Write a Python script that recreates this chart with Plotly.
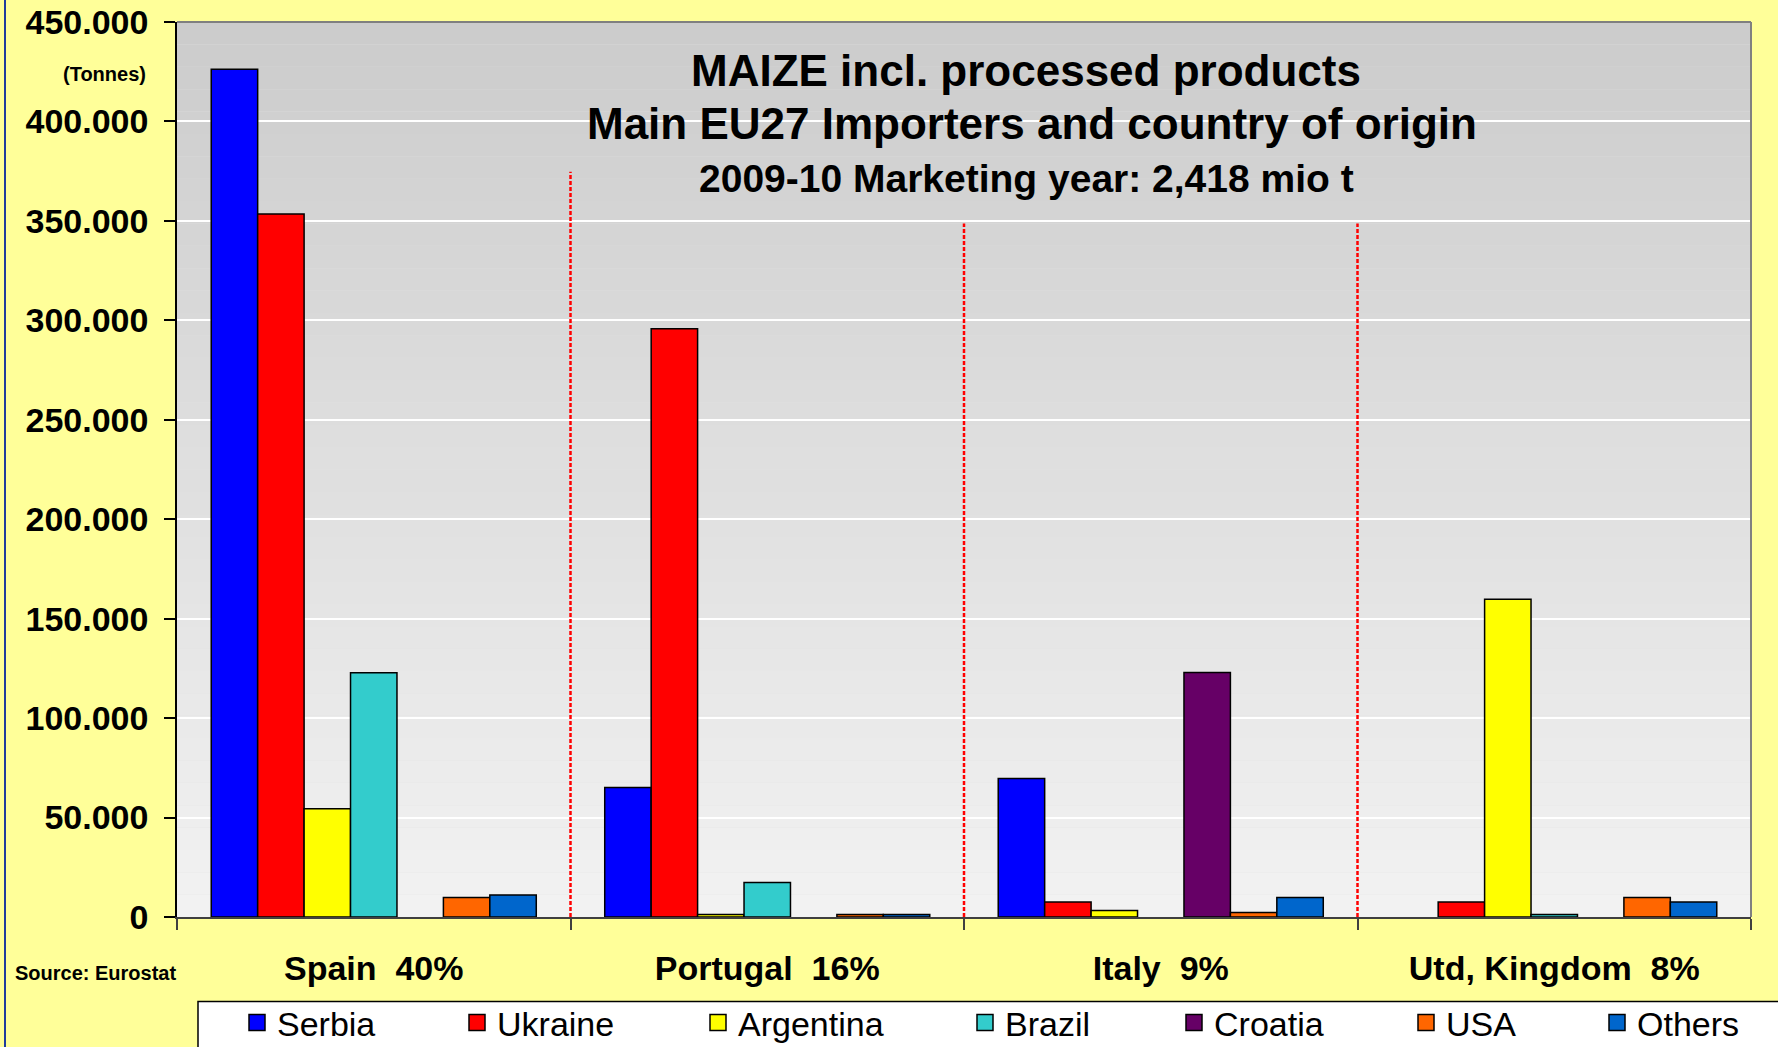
import plotly.graph_objects as go

# importers (x categories) and share of EU27 imports
importers = ["Spain\u00a0 40%", "Portugal\u00a0 16%", "Italy\u00a0 9%", "Utd, Kingdom\u00a0 8%"]

# tonnes imported from each origin, per importer (None = no bar)
serbia = [426300, 65100, 69600, None]
ukraine = [353500, 295800, 7600, 7500]
argentina = [54400, 1200, 3300, 159800]
brazil = [122800, 17400, None, 1200]
croatia = [None, None, 122900, None]
usa = [9800, 1200, 2200, 9800]
others = [11000, 1200, 9800, 7500]

origins = ["Serbia", "Ukraine", "Argentina", "Brazil", "Croatia", "USA", "Others"]
values = [serbia, ukraine, argentina, brazil, croatia, usa, others]
colors = ["#0000FF", "#FF0000", "#FFFF00", "#33CCCC", "#660066", "#FF6600", "#0066CC"]
legend_widths = [175, 196, 222, 164, 187, 146, 100]

# red dotted separators between importers: (position, top in tonnes)
separators = [(0.5, 374700), (1.5, 348700), (2.5, 348700)]

W, H = 1778, 1047
L, R, T, B = 177, 27, 22, 130
PW, PH = W - L - R, H - T - B

FONT = "Liberation Sans, Arial, sans-serif"


def px_x(x):
    return (x - L) / PW


def px_y(y):
    return (H - B - y) / PH


fig = go.Figure()
for name, vals, col in zip(origins, values, colors):
    fig.add_trace(go.Bar(
        x=importers, y=vals, name=name, legendgroup=name, showlegend=False,
        marker=dict(color=col, line=dict(color="black", width=1.5)),
    ))
# legend entries with larger square swatches
for name, col, lw in zip(origins, colors, legend_widths):
    fig.add_trace(go.Scatter(
        x=[None], y=[None], mode="markers", name=name, legendgroup=name, legendwidth=lw,
        marker=dict(symbol="square", size=16, color=col, line=dict(color="black", width=1.5)),
    ))

shapes = []
# plot-area gradient, grey at top to light grey at bottom
n = 40
for i in range(n):
    c = round(204 + (242 - 204) * (i + 0.5) / n)
    shapes.append(dict(
        type="rect", xref="paper", yref="paper", layer="below",
        x0=0, x1=1, y0=1 - (i + 1) / n, y1=1 - i / n,
        fillcolor=f"rgb({c},{c},{c})", line=dict(width=0),
    ))
# top and right border of the plot area
shapes.append(dict(type="line", xref="paper", yref="paper", x0=0, x1=1, y0=1, y1=1,
                   line=dict(color="#808080", width=2), layer="above"))
shapes.append(dict(type="line", xref="paper", yref="paper", x0=1, x1=1, y0=0, y1=1,
                   line=dict(color="#808080", width=2), layer="above"))
for xs, top in separators:
    shapes.append(dict(type="line", xref="x", yref="y", x0=xs, x1=xs, y0=0, y1=top,
                       line=dict(color="#FF0000", width=2.5, dash="4px,2px"), layer="above"))
# legend frame and the left edge of the chart frame
shapes.append(dict(type="rect", xref="paper", yref="paper", layer="below",
                   x0=px_x(198), x1=px_x(1800), y0=px_y(1070), y1=px_y(1001.5),
                   fillcolor="white", line=dict(color="black", width=1.5)))
shapes.append(dict(type="line", xref="paper", yref="paper", layer="below",
                   x0=px_x(5), x1=px_x(5), y0=px_y(H + 5), y1=px_y(-5),
                   line=dict(color="#203C9C", width=2)))

annotations = [
    dict(text="MAIZE incl. processed products", x=px_x(1026), y=px_y(70),
         font=dict(size=44)),
    dict(text="Main EU27 Importers and country of origin", x=px_x(1032), y=px_y(124),
         font=dict(size=44)),
    dict(text="2009-10 Marketing year: 2,418 mio t", x=px_x(1026), y=px_y(178),
         font=dict(size=39)),
    dict(text="(Tonnes)", x=px_x(148), y=px_y(74), xanchor="right", font=dict(size=20)),
    dict(text="Source: Eurostat", x=px_x(13), y=px_y(973), xanchor="left", font=dict(size=20)),
]
for a in annotations:
    a.setdefault("xanchor", "center")
    a.update(xref="paper", yref="paper", yanchor="middle", showarrow=False)
    a["font"].update(family=FONT, color="black", weight="bold")

fig.update_layout(
    width=W, height=H,
    margin=dict(l=L, r=R, t=T, b=B, pad=0, autoexpand=False),
    paper_bgcolor="#FFFF99",
    plot_bgcolor="#E0E0E0",
    separators=",.",
    barmode="group", bargap=0.174, bargroupgap=0,
    font=dict(family=FONT, color="black"),
    shapes=shapes,
    annotations=annotations,
    showlegend=True,
    legend=dict(
        orientation="h", xref="container", yref="container",
        x=237 / W, y=1 - 1023 / H, xanchor="left", yanchor="middle",
        bgcolor="rgba(0,0,0,0)", borderwidth=0,
        font=dict(size=34, family=FONT, color="black"),
        traceorder="normal", itemsizing="trace",
    ),
    xaxis=dict(
        showline=True, linecolor="#404040", linewidth=2,
        ticks="outside", tickson="boundaries", ticklen=11, tickcolor="#404040", tickwidth=1.5,
        ticklabelstandoff=20, automargin=False,
        tickfont=dict(size=34, family=FONT, color="black", weight="bold"),
        showgrid=False, fixedrange=True,
    ),
    yaxis=dict(
        range=[0, 450000], dtick=50000, tickformat=",d",
        showline=True, linecolor="black", linewidth=1.5,
        ticks="outside", ticklen=11, tickcolor="black", tickwidth=1.5,
        ticklabelstandoff=9, automargin=False,
        tickfont=dict(size=34, family=FONT, color="black", weight="bold"),
        showgrid=True, gridcolor="white", gridwidth=1.5, zeroline=False,
        fixedrange=True,
    ),
)

fig.write_html("out.html", config={"displayModeBar": False},
               post_script="document.body.style.margin='0px';")
